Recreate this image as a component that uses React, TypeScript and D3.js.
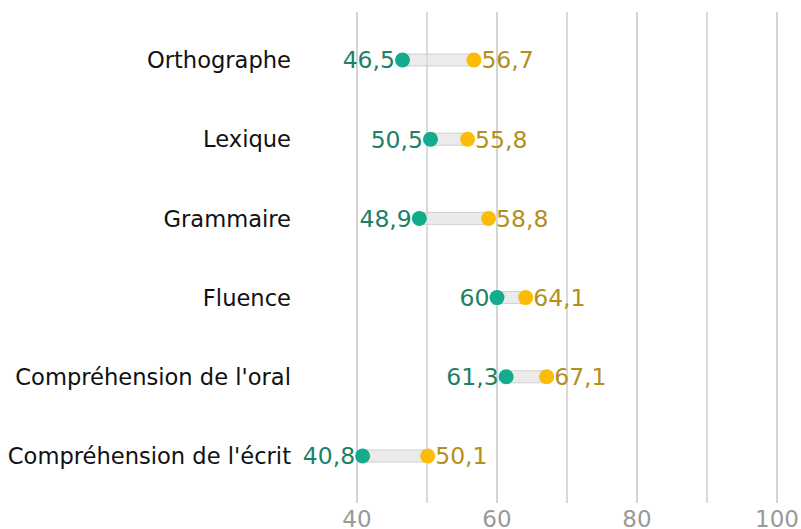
import React from "react";
import * as d3 from "d3";

const categories = [
  "Orthographe",
  "Lexique",
  "Grammaire",
  "Fluence",
  "Compréhension de l'oral",
  "Compréhension de l'écrit",
];
const startValues = [46.5, 50.5, 48.9, 60, 61.3, 40.8];
const endValues = [56.7, 55.8, 58.8, 64.1, 67.1, 50.1];
const majorTicks = [40, 60, 80, 100];
const minorTicks = [50, 70, 90];

const width = 801;
const height = 529;
const font = "DejaVu Sans, sans-serif";

const fmt = (v: number) => String(v).replace(".", ",");

export default function App() {
  const x = d3.scaleLinear().domain([40, 100]).range([357, 777]);
  const y = d3.scalePoint<string>().domain(categories).range([60, 456]);
  const r = 7.5;

  return (
    <svg
      width={width}
      height={height}
      style={{ position: "absolute", left: 0, top: 0 }}
      fontFamily={font}
    >
      {minorTicks.map((t) => (
        <line key={"mi" + t} x1={x(t)} x2={x(t)} y1={12} y2={503} stroke="#b4b4b4" strokeWidth={1} />
      ))}
      {majorTicks.map((t) => (
        <line key={"ma" + t} x1={x(t)} x2={x(t)} y1={12} y2={503} stroke="#d4d4d4" strokeWidth={2} />
      ))}
      {majorTicks.map((t) => (
        <text key={"t" + t} x={x(t)} y={527} textAnchor="middle" fontSize={23} fill="#999999">
          {t}
        </text>
      ))}
      {categories.map((c, i) => {
        const cy = y(c)!;
        const x0 = x(startValues[i]);
        const x1 = x(endValues[i]);
        return (
          <g key={c}>
            <text x={291} y={cy} dy="0.36em" textAnchor="end" fontSize={22.6} fill="#111111">
              {c}
            </text>
            <rect
              x={x0}
              y={cy - 6}
              width={x1 - x0}
              height={12}
              fill="#dedede"
              fillOpacity={0.6}
              stroke="#cfcfcf"
              strokeWidth={1}
            />
            <circle cx={x0} cy={cy} r={r} fill="#12ac8c" />
            <circle cx={x1} cy={cy} r={r} fill="#fbbb06" />
            <text x={x0 - r} y={cy} dy="0.36em" textAnchor="end" fontSize={23.5} fill="#1e8064">
              {fmt(startValues[i])}
            </text>
            <text x={x1 + r} y={cy} dy="0.36em" textAnchor="start" fontSize={23.5} fill="#b48f1c">
              {fmt(endValues[i])}
            </text>
          </g>
        );
      })}
    </svg>
  );
}
